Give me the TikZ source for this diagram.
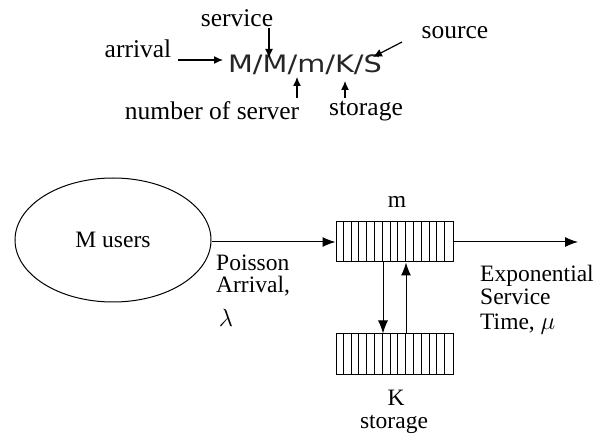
\documentclass[tikz,border=0pt]{standalone}
\usepackage{fontspec}
\setmainfont{Liberation Serif}
\newfontfamily\mmkfont{DejaVu Sans}
\usetikzlibrary{arrows.meta,shapes.geometric}
\tikzset{
  toptxt/.style={inner sep=0pt, font=\fontsize{25.5}{30}\selectfont},
  bottxt/.style={inner sep=0pt, font=\fontsize{23.5}{28}\selectfont},
  smallarr/.style={line width=1.2pt, -{Latex[length=9pt,width=8pt]}},
  bigarr/.style={line width=1pt, -{Latex[length=13pt,width=10pt]}},
  queuebox/.style={draw, line width=1pt, minimum width=117pt, minimum height=40pt, inner sep=0pt},
}
\begin{document}
\begin{tikzpicture}[x=1pt,y=-1pt]
\useasboundingbox (0,0) rectangle (594,435);
% ---- top notation ----
\node[inner sep=0pt, font=\mmkfont\fontsize{24}{28}\selectfont, text=black!85] (mmk) at (305,65) {\scalebox{1.2}[1]{M/M/m/K/S}};
\node[toptxt] (service) at (237,18) {service};
\node[toptxt] (arrival) at (138,49) {arrival};
\node[toptxt] (source) at (455,33) {source};
\node[toptxt] (nserver) at (212,111) {number of server};
\node[toptxt] (storage) at (366,111) {storage};
\coordinate (arrA) at (178,60);
\coordinate (arrB) at (223,60);
\coordinate (servA) at (269,28);
\coordinate (servB) at (269,58);
\coordinate (srcA) at (402,42);
\coordinate (srcB) at (373,57);
\coordinate (nsA) at (297,98);
\coordinate (nsB) at (297,77);
\coordinate (stA) at (345,98);
\coordinate (stB) at (345,81);
\draw[smallarr] (arrA) -- (arrB);
\draw[smallarr] (servA) -- (servB);
\draw[smallarr] (srcA) -- (srcB);
\draw[smallarr] (nsA) -- (nsB);
\draw[smallarr] (stA) -- (stB);
% ---- bottom diagram ----
\node[draw, ellipse, line width=1pt, minimum width=196pt, minimum height=124pt, inner sep=0pt, font=\fontsize{23.5}{28}\selectfont] (users) at (113,240) {M users};
\node[queuebox] (q1) at (394.5,242) {};
\node[queuebox] (q2) at (394.5,354) {};
\foreach \i in {1,...,14} {
  \draw[line width=1pt] ([xshift=\i*117/15]q1.north west) -- ([xshift=\i*117/15]q1.south west);
  \draw[line width=1pt] ([xshift=\i*117/15]q2.north west) -- ([xshift=\i*117/15]q2.south west);
}
\coordinate (out) at (578,242);
\draw[bigarr] (users.east |- q1.west) -- (q1.west);
\draw[bigarr] (q1.east) -- (out);
\draw[bigarr] ([xshift=-11.5pt]q1.south) -- ([xshift=-11.5pt]q2.north);
\draw[bigarr] ([xshift=11.5pt]q2.north) -- ([xshift=11.5pt]q1.south);
\node[bottxt] (mlab) at (397,202) {m};
\node[bottxt] (klab) at (396,398) {K};
\node[bottxt] (stlab) at (394,424) {storage};
\node[bottxt, anchor=west] (exp) at (480,276) {Exponential};
\node[bottxt, anchor=west] (serv) at (480,297) {Service};
\node[bottxt, anchor=west] (time) at (480,324) {Time, $\mu$};
\node[bottxt, anchor=west] (poi) at (216,263) {Poisson};
\node[bottxt, anchor=west] (arr) at (216,286) {Arrival,};
\node[bottxt] (lam) at (226,318) {$\lambda$};
\end{tikzpicture}
\end{document}
